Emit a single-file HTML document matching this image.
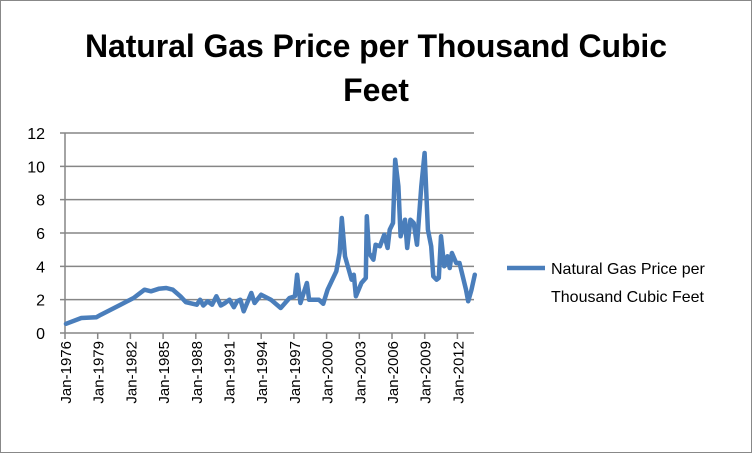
<!DOCTYPE html>
<html><head><meta charset="utf-8"><style>
body{margin:0;background:#fff;}
svg{display:block;font-family:"Liberation Sans",sans-serif;}
</style></head><body>
<svg id="chart" width="753" height="454">
<rect x="0.5" y="0.5" width="751" height="452" fill="#fff" stroke="#888"/>
<text x="376" y="57" text-anchor="middle" font-size="32" font-weight="bold" textLength="582">Natural Gas Price per Thousand Cubic</text>
<text x="376" y="101" text-anchor="middle" font-size="32" font-weight="bold">Feet</text>
<g id="grid"></g><g id="axes"></g><g id="series"></g>
<line x1="507" y1="268" x2="545" y2="268" stroke="#4a7ebb" stroke-width="4.5"/>
<text x="551" y="274" font-size="16">Natural Gas Price per</text>
<text x="551" y="302" font-size="16">Thousand Cubic Feet</text>
</svg>
<script>
const years=[1976,1977.4,1978.8,1979.2,1981,1982.2,1983.2,1983.8,1984.5,1985.2,1985.8,1986.5,1987,1988,1988.3,1988.6,1989,1989.4,1989.8,1990.2,1990.6,1991,1991.4,1991.7,1992,1992.3,1993,1993.3,1993.9,1994.8,1995.7,1996.5,1997,1997.2,1997.5,1998.1,1998.3,1999.2,1999.6,2000,2000.8,2001.1,2001.3,2001.6,2002.2,2002.4,2002.6,2003.1,2003.5,2003.6,2003.8,2004.2,2004.4,2004.8,2005.2,2005.5,2005.7,2006,2006.2,2006.5,2006.7,2007.1,2007.3,2007.6,2007.9,2008.2,2008.6,2008.9,2009.2,2009.5,2009.7,2010,2010.2,2010.4,2010.7,2011,2011.2,2011.4,2011.8,2012.1,2012.7,2012.9,2013.2,2013.5];
const prices=[0.55,0.9,0.95,1.1,1.7,2.1,2.6,2.5,2.65,2.7,2.6,2.2,1.85,1.7,2.0,1.65,1.9,1.7,2.2,1.65,1.8,2.0,1.55,1.9,2.0,1.3,2.4,1.8,2.3,2.0,1.5,2.1,2.2,3.5,1.8,3.0,2.0,2.0,1.75,2.6,3.7,4.8,6.9,4.6,3.2,3.5,2.2,3.0,3.3,7.0,4.8,4.4,5.3,5.2,5.9,5.1,6.2,6.6,10.4,8.8,5.8,6.8,5.1,6.8,6.6,5.3,8.8,10.8,6.2,5.2,3.4,3.2,3.3,5.8,4.0,4.6,3.9,4.8,4.2,4.2,2.6,1.9,2.6,3.5];
const yTicks=[0,2,4,6,8,10,12];
const xLabels=["Jan-1976","Jan-1979","Jan-1982","Jan-1985","Jan-1988","Jan-1991","Jan-1994","Jan-1997","Jan-2000","Jan-2003","Jan-2006","Jan-2009","Jan-2012"];
const NS="http://www.w3.org/2000/svg";
const X0=65,X1=474,Y0=333,Y1=133;
const xs=y=>66+(y-1976)*10.9;
const ys=v=>Y0-(v/12)*(Y0-Y1);
function mk(t,a,p){const e=document.createElementNS(NS,t);for(const k in a)e.setAttribute(k,a[k]);p.appendChild(e);return e;}
const g=document.getElementById('grid'),ax=document.getElementById('axes'),s=document.getElementById('series');
yTicks.forEach(v=>{
 const l=mk('line',{x1:X0-5,x2:X1,y1:ys(v),y2:ys(v),stroke:'#868686','stroke-width':1.5},g);
 
 
 const t=mk('text',{x:45,y:ys(v)+6,'text-anchor':'end','font-size':16},ax);
 t.textContent=v;
 
 
});
const ya=mk('line',{x1:X0,x2:X0,y1:Y1,y2:Y0,stroke:'#868686','stroke-width':1.5},ax);


xLabels.forEach((lab,i)=>{
 const tx=X0+i*32.7;
 const tk=mk('line',{x1:tx,x2:tx,y1:Y0,y2:Y0+6,stroke:'#868686','stroke-width':1.5},ax);
 
 
 const cx=xs(1976+i*3)+5;
 const t=mk('text',{x:0,y:0,'text-anchor':'end','font-size':15,transform:`translate(${cx},${Y0+8}) rotate(-90)`},ax);
 t.textContent=lab;
 
 
});
const d=years.map((y,i)=>(i?'L':'M')+xs(y).toFixed(1)+','+ys(prices[i]).toFixed(1)).join(' ');
const p=mk('path',{d:d,fill:'none',stroke:'#4a7ebb','stroke-width':4.5,'stroke-linejoin':'round','stroke-linecap':'round'},s);


</script>
</body></html>
